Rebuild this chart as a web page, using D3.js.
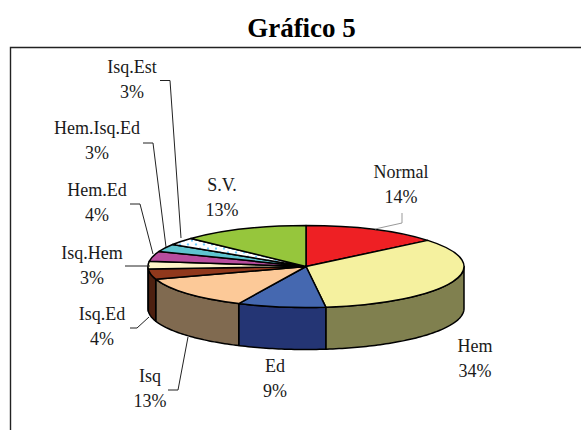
<!DOCTYPE html>
<html>
<head>
<meta charset="utf-8">
<script src="https://cdn.jsdelivr.net/npm/d3@7"></script>
<style>
  html, body { margin: 0; padding: 0; background: #fff; overflow: hidden; }
  text { font-family: "Liberation Serif", serif; fill: #1a1a1a; }
</style>
</head>
<body>
<div id="chart"></div>
<script>
// Data
const categories = ["Normal", "Hem", "Ed", "Isq", "Isq.Ed", "Isq.Hem", "Hem.Ed", "Hem.Isq.Ed", "Isq.Est", "S.V."];
const values = [14, 34, 9, 13, 4, 3, 4, 3, 3, 13];

// Colors per slice (top face, then wall)
const topColors = ["#ee2024", "#f5f19f", "#4568b0", "#fcc998", "#90381c", "#fff5c8", "#b84d9e", "#5fc4cf", "url(#dots)", "#96c63c"];
const sideColors = ["#77100f", "#80804f", "#243574", "#806a50", "#4d2010", "#807a64", "#5c274f", "#306268", "#808080", "#4b631e"];

// Label placement: centre x, y of the first line
const labelX = [401, 475, 275, 150, 102, 92, 97, 97, 132, 222];
const labelY = [172, 346, 366, 376, 314, 253, 190, 128, 67, 185];

// Leader lines, one list of corner points per label
const leaders = [
  [[402, 213], [402, 223], [375, 229]],
  [],
  [],
  [[168, 390], [178, 390], [188, 337]],
  [[130, 328], [137, 328], [149, 317]],
  [[125, 266], [150, 266]],
  [[130, 204], [140, 204], [153, 254]],
  [[143, 143], [153, 143], [166, 247]],
  [[160, 80.5], [170, 80.5], [181, 238]],
  []
];

// Set up dimensions
const width = 581;
const height = 430;
const cx = 306;
const cy = 266.5;
const rx = 158;
const ry = 41;
const depth = 42;

const svg = d3.select("#chart")
  .append("svg")
  .attr("width", width)
  .attr("height", height);

// Dotted fill for Isq.Est, stretched back since the top face is squashed
const dots = svg.append("defs").append("pattern")
  .attr("id", "dots")
  .attr("patternUnits", "userSpaceOnUse")
  .attr("patternTransform", `scale(1,${rx / ry})`)
  .attr("width", 8)
  .attr("height", 8);
dots.append("rect").attr("width", 8).attr("height", 8).attr("fill", "#fff");
dots.append("circle").attr("cx", 2).attr("cy", 2).attr("r", 1.1).attr("fill", "#66ccff");
dots.append("circle").attr("cx", 6).attr("cy", 6).attr("r", 1.1).attr("fill", "#66ccff");

// Frame, runs off the right and bottom of the picture
svg.append("path")
  .attr("d", `M10.5,${height}V47.5H${width}`)
  .attr("fill", "none")
  .attr("stroke", "#222")
  .attr("stroke-width", 1.4);

// Title
svg.append("text")
  .attr("x", 301.5)
  .attr("y", 37)
  .attr("text-anchor", "middle")
  .attr("font-size", 27)
  .attr("font-weight", "bold")
  .style("fill", "#000")
  .text("Gráfico 5");

// Pie
const pie = d3.pie().sort(null)(values);

// Walls of the front half only
const wall = d3.area()
  .x(a => cx + rx * Math.sin(a))
  .y0(a => cy - ry * Math.cos(a))
  .y1(a => cy - ry * Math.cos(a) + depth);

const front = pie
  .map(d => ({
    i: d.index,
    a0: Math.max(d.startAngle, Math.PI / 2),
    a1: Math.min(d.endAngle, Math.PI * 1.5)
  }))
  .filter(d => d.a1 > d.a0);

svg.append("g")
  .selectAll("path")
  .data(front)
  .join("path")
  .attr("d", d => wall(d3.range(d.a0, d.a1, 0.02).concat(d.a1)))
  .attr("fill", d => sideColors[d.i])
  .attr("stroke", "#000")
  .attr("stroke-width", 1.5)
  .attr("stroke-linejoin", "round");

// Top face, circular arc squashed into the ellipse
const arc = d3.arc().innerRadius(0).outerRadius(rx);

svg.append("g")
  .attr("transform", `translate(${cx},${cy}) scale(1,${ry / rx})`)
  .selectAll("path")
  .data(pie)
  .join("path")
  .attr("d", arc)
  .attr("fill", d => topColors[d.index])
  .attr("stroke", "#000")
  .attr("stroke-width", 1.5)
  .attr("stroke-linejoin", "round")
  .attr("vector-effect", "non-scaling-stroke");

// Leader lines
svg.append("g")
  .selectAll("path")
  .data(leaders.filter(d => d.length))
  .join("path")
  .attr("d", d3.line())
  .attr("fill", "none")
  .attr("stroke", (d, i) => i === 0 ? "#999" : "#222")
  .attr("stroke-width", 1);

// Labels
const labels = svg.append("g")
  .selectAll("text")
  .data(categories)
  .join("text")
  .attr("text-anchor", "middle")
  .attr("font-size", 18);

labels.append("tspan")
  .attr("x", (d, i) => labelX[i])
  .attr("y", (d, i) => labelY[i] + 6)
  .text(d => d);

labels.append("tspan")
  .attr("x", (d, i) => labelX[i])
  .attr("y", (d, i) => labelY[i] + 31)
  .text((d, i) => values[i] + "%");
</script>
</body>
</html>
